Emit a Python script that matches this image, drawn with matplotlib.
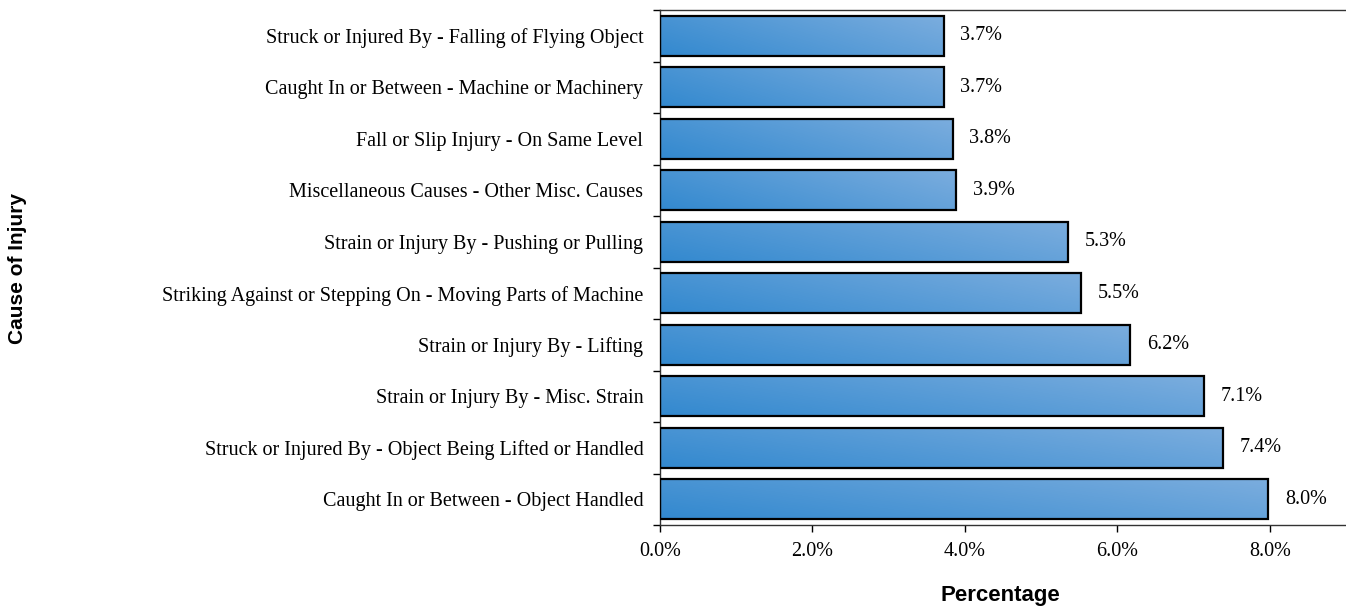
import matplotlib
matplotlib.use('Agg')
import matplotlib.pyplot as plt
import numpy as np
from matplotlib.colors import LinearSegmentedColormap
from matplotlib.ticker import FixedLocator

causes = [
    'Caught In or Between - Object Handled',
    'Struck or Injured By - Object Being Lifted or Handled',
    'Strain or Injury By - Misc. Strain',
    'Strain or Injury By - Lifting',
    'Striking Against or Stepping On - Moving Parts of Machine',
    'Strain or Injury By - Pushing or Pulling',
    'Miscellaneous Causes - Other Misc. Causes',
    'Fall or Slip Injury - On Same Level',
    'Caught In or Between - Machine or Machinery',
    'Struck or Injured By - Falling of Flying Object',
]
pct = [7.98, 7.38, 7.14, 6.17, 5.52, 5.35, 3.88, 3.84, 3.72, 3.72]

fig = plt.figure(figsize=(13.46, 6.08), dpi=100)
ax = fig.add_axes([660 / 1346, 1 - 525 / 608, 686 / 1346, 515 / 608])

y = np.arange(len(causes))
bars = ax.barh(y, pct, height=0.78, color='none', edgecolor='black', linewidth=1.6, zorder=3)

# gradient fill: darker blue top-left to lighter bottom-right
cmap = LinearSegmentedColormap.from_list('g', ['#3389cf', '#7badde'])
gx, gy = np.meshgrid(np.linspace(0, 1, 200), np.linspace(0, 1, 20))
grad = 0.7 * gx + 0.3 * gy
for b in bars:
    x0, y0 = b.get_x(), b.get_y()
    w, h = b.get_width(), b.get_height()
    im = ax.imshow(grad, cmap=cmap, extent=[x0, x0 + w, y0 + h, y0], aspect='auto',
                   origin='upper', zorder=2, interpolation='bilinear')
    im.set_clip_path(b)

for yi, v in zip(y, pct):
    ax.text(v + 0.22, yi, f'{v:.1f}%', va='center', ha='left',
            fontsize=14.5, family='Liberation Serif')

ax.set_xlim(0, 9)
ax.set_ylim(-0.5, 9.5)
ax.set_xticks([0, 2, 4, 6, 8])
ax.set_xticklabels([f'{t:.1f}%' for t in [0, 2, 4, 6, 8]], family='Liberation Serif', fontsize=14.5)
ax.set_yticks(y)
ax.set_yticklabels(causes, family='Liberation Serif', fontsize=14.5)
ax.tick_params(axis='y', which='major', length=0, pad=12)
ax.yaxis.set_minor_locator(FixedLocator(np.arange(-0.5, 10, 1.0)))
ax.tick_params(axis='y', which='minor', length=5, width=1, direction='out')
ax.tick_params(axis='x', length=5, width=1, pad=7)

ax.spines['right'].set_visible(False)
for s in ['top', 'left', 'bottom']:
    ax.spines[s].set_linewidth(1)
    ax.spines[s].set_color('#333333')

fig.text(1000 / 1346, 1 - 596 / 608, 'Percentage', ha='center', va='center',
         fontsize=16, fontweight='bold', family='Liberation Sans')
fig.text(18 / 1346, 1 - 268 / 608, 'Cause of Injury', ha='center', va='center', rotation=90,
         fontsize=15, fontweight='bold', family='Liberation Sans')

fig.savefig('out.png', dpi=100)
